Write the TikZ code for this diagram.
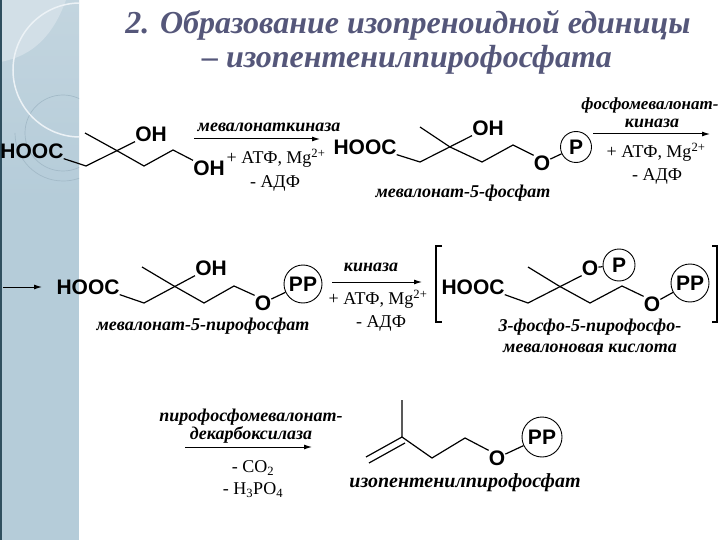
\documentclass[tikz,border=0pt]{standalone}
\usepackage{fontspec}
\setmainfont{Liberation Serif}
\newfontfamily\atomfont{Liberation Sans}
\usetikzlibrary{arrows.meta}
\definecolor{sidebar}{HTML}{B5CCD9}
\definecolor{sidebartop}{HTML}{C3D5DF}
\definecolor{sidebarlight}{HTML}{D2DFE7}
\definecolor{sidebarline}{HTML}{A3BAC8}
\definecolor{sidebardark}{HTML}{2F4F5F}
\definecolor{titlecol}{HTML}{55577A}
\tikzset{
  bond/.style={line width=1.2pt, black},
  rxnarrow/.style={line width=1pt, black, -{Latex[length=8pt,width=5pt]}},
  atom/.style={inner sep=0pt, font=\atomfont\bfseries\fontsize{21}{24}\selectfont},
  phos/.style={circle, draw, line width=0.9pt, inner sep=0pt, minimum size=#1, font=\atomfont\bfseries\fontsize{21}{24}\selectfont},
  enzyme/.style={inner sep=0pt, font=\bfseries\itshape\fontsize{18}{20}\selectfont},
  enzymesized/.style={inner sep=0pt, font=\bfseries\itshape\fontsize{#1}{20}\selectfont},
  cofactor/.style={inner sep=0pt, font=\fontsize{18}{21}\selectfont},
  headline/.style={inner sep=0pt, text=titlecol, font=\bfseries\itshape\fontsize{32}{36}\selectfont},
}
\begin{document}
\begin{tikzpicture}[x=1pt,y=-1pt]
\useasboundingbox (0,0) rectangle (720,540);
% side band
\fill[sidebar] (0,0) rectangle (79,540);
\shade[top color=sidebartop, bottom color=sidebar] (0,0) rectangle (79,200);
\begin{scope}
\clip (0,0) rectangle (79,540);
\fill[sidebarlight] (0,0) -- (66,0) to[out=250,in=10] (0,62) -- cycle;
\draw[sidebarline, line width=0.7pt] (63,133) circle (38);
\draw[sidebarline, line width=0.7pt] (15,133) arc [start angle=180, end angle=20, radius=48];
\draw[white!75!sidebar, line width=1.5pt] (80,70) circle (67);
\end{scope}
\fill[sidebardark] (0,0) rectangle (2,540);
% title
\node[headline] (title1) at (408,25) {2. Образование изопреноидной единицы};
\node[headline] (title2) at (407,60) {– изопентенилпирофосфата};
% mevalonate
\node[atom] (hoocA) at (32,151) {HOOC};
\node[atom] (ohA) at (151,134) {OH};
\node[atom] (ohB) at (209,168) {OH};
\coordinate (a1) at (86,166);
\coordinate (a2) at (114,149);
\coordinate (a3) at (85,133);
\coordinate (a4) at (144,166);
\coordinate (a5) at (173,150);
\draw[bond] (hoocA.south east) -- (a1) -- (ohA.south west);
\draw[bond] (a3) -- (a2) -- (a4) -- (a5) -- (ohB.north west);
% first kinase step
\coordinate (r1s) at (194,139);
\coordinate (r1e) at (320,139);
\draw[rxnarrow] (r1s) -- (r1e);
\node[enzyme] (enzA) at (269,127) {мевалонаткиназа};
\node[cofactor] (coA) at (276,158) {+ АТФ, Mg\textsuperscript{2+}};
\node[cofactor] (adpA) at (275,183) {- АДФ};
% mevalonate-5-phosphate
\node[atom] (hoocB) at (365,147) {HOOC};
\node[atom] (ohC) at (488,128) {OH};
\node[atom] (oA) at (542,163) {O};
\node[phos=31pt] (pA) at (576,147) {P};
\coordinate (b1) at (420,162);
\coordinate (b2) at (450,147);
\coordinate (b3) at (420,127);
\coordinate (b4) at (482,162);
\coordinate (b5) at (513,145);
\draw[bond] (hoocB.south east) -- (b1) -- (ohC.south west);
\draw[bond] (b3) -- (b2) -- (b4) -- (b5) -- (oA.north west);
\draw[bond] (oA) -- (pA);
\node[enzyme] (capB) at (463,193) {мевалонат-5-фосфат};
% second kinase step
\coordinate (r2s) at (593,134);
\coordinate (r2e) at (710,134);
\draw[rxnarrow] (r2s) -- (r2e);
\node[enzymesized=17] (enzB1) at (650,105) {фосфомевалонат-};
\node[enzyme] (enzB2) at (652,123) {киназа};
\node[cofactor] (coB) at (656,152) {+ АТФ, Mg\textsuperscript{2+}};
\node[cofactor] (adpB) at (657,176) {- АДФ};
% mevalonate-5-pyrophosphate
\coordinate (r0s) at (3,287);
\coordinate (r0e) at (42,287);
\draw[rxnarrow] (r0s) -- (r0e);
\node[atom] (hoocC) at (88,287) {HOOC};
\node[atom] (ohD) at (211,268) {OH};
\node[atom] (oB) at (263,303) {O};
\node[phos=38pt] (ppA) at (303,284) {PP};
\coordinate (c1) at (144,303);
\coordinate (c2) at (174,286);
\coordinate (c3) at (142,267);
\coordinate (c4) at (204,303);
\coordinate (c5) at (234,286);
\draw[bond] (hoocC.south east) -- (c1) -- (ohD.south west);
\draw[bond] (c3) -- (c2) -- (c4) -- (c5) -- (oB.north west);
\draw[bond] (oB) -- (ppA);
\node[enzyme] (capC) at (203,326) {мевалонат-5-пирофосфат};
% third kinase step
\coordinate (r3s) at (332,282);
\coordinate (r3e) at (422,282);
\draw[rxnarrow] (r3s) -- (r3e);
\node[enzyme] (enzC) at (371,267) {киназа};
\node[cofactor] (coC) at (378,299) {+ АТФ, Mg\textsuperscript{2+}};
\node[cofactor] (adpC) at (381,323) {- АДФ};
% bracketed intermediate
\coordinate (bl1) at (442,246);
\coordinate (bl2) at (436,246);
\coordinate (bl3) at (436,322);
\coordinate (bl4) at (442,322);
\coordinate (br1) at (712,246);
\coordinate (br2) at (717,246);
\coordinate (br3) at (717,322);
\coordinate (br4) at (712,322);
\draw[bond] (bl1) -- (bl2) -- (bl3) -- (bl4);
\draw[bond] (br1) -- (br2) -- (br3) -- (br4);
\node[atom] (hoocD) at (473,287) {HOOC};
\node[atom] (oC) at (590,268) {O};
\node[atom] (oD) at (652,304) {O};
\node[phos=32pt] (pB) at (619,265) {P};
\node[phos=38pt] (ppB) at (690,283) {PP};
\coordinate (d1) at (528,303);
\coordinate (d2) at (559,286);
\coordinate (d3) at (528,267);
\coordinate (d4) at (590,303);
\coordinate (d5) at (622,286);
\draw[bond] (hoocD.south east) -- (d1) -- (oC.south west);
\draw[bond] (d3) -- (d2) -- (d4) -- (d5) -- (oD.north west);
\draw[bond] (oC) -- (pB);
\draw[bond] (oD) -- (ppB);
\node[enzyme] (capD1) at (590,327) {3-фосфо-5-пирофосфо-};
\node[enzyme] (capD2) at (590,348) {мевалоновая кислота};
% decarboxylase step
\coordinate (r4s) at (185,447);
\coordinate (r4e) at (312,447);
\draw[rxnarrow] (r4s) -- (r4e);
\node[enzyme] (enzD1) at (251,417) {пирофосфомевалонат-};
\node[enzyme] (enzD2) at (251,435) {декарбоксилаза};
\node[cofactor] (coD) at (253,468) {- CO\textsubscript{2}};
\node[cofactor] (piD) at (253,490) {- H\textsubscript{3}PO\textsubscript{4}};
% isopentenyl pyrophosphate
\node[atom] (oE) at (497,458) {O};
\node[phos=40pt] (ppC) at (542,437) {PP};
\coordinate (e1) at (402,400);
\coordinate (e2) at (402,437);
\coordinate (e3) at (366,457);
\coordinate (e4) at (369,463);
\coordinate (e5) at (405,443);
\coordinate (e6) at (432,458);
\coordinate (e7) at (465,438);
\draw[bond] (e1) -- (e2) -- (e3);
\draw[bond] (e4) -- (e5);
\draw[bond] (e2) -- (e6) -- (e7) -- (oE.north west);
\draw[bond] (oE) -- (ppC);
\node[enzymesized=20] (capE) at (465,483) {изопентенилпирофосфат};
\end{tikzpicture}
\end{document}
